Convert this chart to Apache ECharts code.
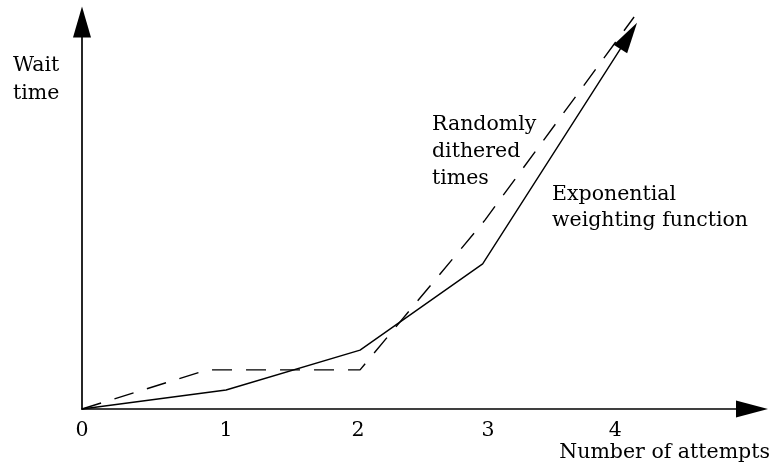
<!DOCTYPE html>
<html><head><meta charset="utf-8">
<script src="https://cdn.jsdelivr.net/npm/echarts@6/dist/echarts.min.js"></script>
<style>html,body{margin:0;padding:0;background:#fff}#c{width:777px;height:472px}</style>
</head><body><div id="c"></div>
<script>
// Tick labels on the x axis and where they sit (in attempt units)
const tickLabels = ['0', '1', '2', '3', '4'];
const tickPositions = [0, 1.075, 2.06, 3.03, 3.98];

// Exponential weighting function (solid line, ends in an arrow)
const weightingX = [0, 1.075, 2.075, 2.99, 4.08];
const weightingY = [0, 4.9, 15.2, 37.5, 96.4];

// Randomly dithered times (dashed line)
const ditheredX = [0, 0.933, 2.075, 3.007, 4.12];
const ditheredY = [0, 10.1, 10.1, 48.8, 101.3];

const FONT = '"DejaVu Serif"';
const FS = 20.5;

const weightingData = weightingX.map((x, i) => {
  const item = { value: [x, weightingY[i]] };
  if (i === weightingX.length - 1) {
    item.symbol = 'triangle';
    item.symbolSize = [16, 31];
    item.symbolRotate = -32.5;
  }
  return item;
});
const ditheredData = ditheredX.map((x, i) => [x, ditheredY[i]]);

const chart = echarts.init(document.getElementById('c'), null, { renderer: 'canvas' });
chart.setOption({
  animation: false,
  backgroundColor: '#fff',
  grid: { left: 82, right: 25, top: 22, bottom: 63, containLabel: false, outerBoundsMode: 'none' },
  xAxis: {
    type: 'value', min: 0, max: 5,
    axisLine: { show: true, symbol: ['none', 'triangle'], symbolSize: [17, 32],
      lineStyle: { color: '#000', width: 1.7 } },
    axisTick: { show: false },
    splitLine: { show: false },
    axisLabel: {
      customValues: tickPositions,
      formatter: v => tickLabels[tickPositions.indexOf(v)],
      color: '#000', fontFamily: FONT, fontSize: FS, margin: 11
    }
  },
  yAxis: {
    type: 'value', min: 0, max: 100,
    axisLine: { show: true, symbol: ['none', 'triangle'], symbolSize: [18, 31],
      lineStyle: { color: '#000', width: 1.7 } },
    axisTick: { show: false },
    splitLine: { show: false },
    axisLabel: { show: false }
  },
  series: [
    {
      type: 'line', name: 'Exponential weighting function', data: weightingData,
      symbol: 'none', clip: false, silent: true,
      lineStyle: { color: '#000', width: 1.4 },
      itemStyle: { color: '#000', borderWidth: 0 }
    },
    {
      type: 'line', name: 'Randomly dithered times', data: ditheredData,
      symbol: 'none', clip: false, silent: true,
      lineStyle: { color: '#000', width: 1.4, type: [20, 14] }
    }
  ],
  graphic: [
    { type: 'text', left: 13, top: 52,
      style: { text: 'Wait\ntime', font: FS + 'px ' + FONT, lineHeight: 28, fill: '#000' } },
    { type: 'text', left: 432, top: 111.6,
      style: { text: 'Randomly\ndithered\ntimes', font: FS + 'px ' + FONT, lineHeight: 27, fill: '#000' } },
    { type: 'text', left: 552, top: 182,
      style: { text: 'Exponential\nweighting function', font: FS + 'px ' + FONT, lineHeight: 26, fill: '#000' } },
    { type: 'text', right: 7, top: 442,
      style: { text: 'Number of attempts', font: FS + 'px ' + FONT, lineHeight: 20, fill: '#000' } }
  ]
});
</script></body></html>
